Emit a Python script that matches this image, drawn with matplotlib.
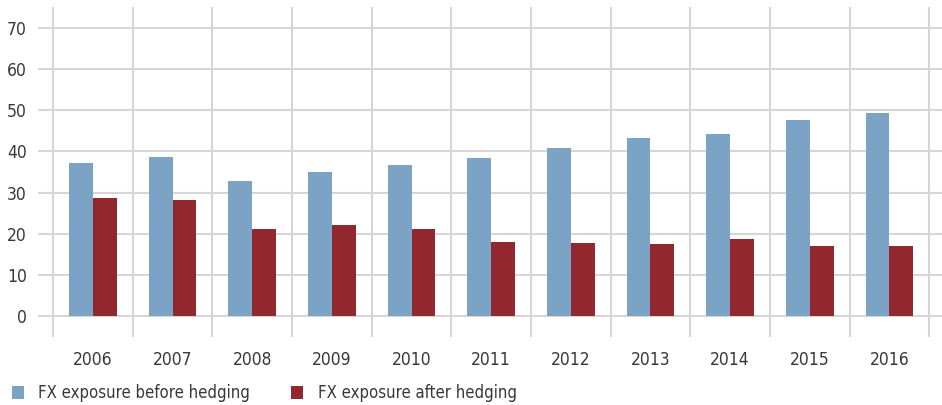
import matplotlib.pyplot as plt
import numpy as np

plt.rcParams['font.family'] = ['DejaVu Sans']
plt.rcParams['font.stretch'] = 'condensed'

# FX exposure, before and after hedging
years = ['2006', '2007', '2008', '2009', '2010', '2011',
         '2012', '2013', '2014', '2015', '2016']
before_hedging = [37.3, 38.7, 32.7, 35.1, 36.6, 38.3, 40.8, 43.3, 44.2, 47.5, 49.2]
after_hedging = [28.6, 28.3, 21.1, 22.1, 21.1, 18.1, 17.8, 17.6, 18.7, 17.0, 17.0]
y_ticks = [0, 10, 20, 30, 40, 50, 60, 70]

blue = '#7ba3c6'
red = '#93272e'
grid_col = '#d6d6d6'
text_col = '#383838'

fig = plt.figure(figsize=(9.42, 4.05), dpi=100)
ax = fig.add_axes([38 / 942, 1 - 337 / 405, 1 - 38 / 942, 330 / 405])

x = np.arange(len(years))
w = 0.30
ax.bar(x - w / 2, before_hedging, w, color=blue, label='FX exposure before hedging', zorder=3)
ax.bar(x + w / 2, after_hedging, w, color=red, label='FX exposure after hedging', zorder=3)

ax.set_xlim(-0.69, 10.66)
ax.set_ylim(-5, 75)

ax.set_yticks(y_ticks)
ax.set_xticks(x)
ax.set_xticklabels(years)
ax.set_xticks(np.arange(-0.5, len(years)), minor=True)

ax.grid(axis='y', which='major', color=grid_col, linewidth=1.5, zorder=0)
ax.grid(axis='x', which='minor', color=grid_col, linewidth=1.5, zorder=0)
ax.grid(axis='x', which='major', visible=False)

for s in ax.spines.values():
    s.set_visible(False)
ax.tick_params(which='both', length=0)
ax.tick_params(axis='y', pad=8, labelsize=12.5, labelcolor=text_col)
ax.tick_params(axis='x', pad=10, labelsize=12.5, labelcolor=text_col)

leg = fig.legend(loc='center left', bbox_to_anchor=(0.0, 1 - 393 / 405), ncol=2,
                 frameon=False, fontsize=12, handlelength=0.72, handleheight=0.85,
                 handletextpad=0.85, columnspacing=2.5, borderaxespad=0.3)
for t in leg.get_texts():
    t.set_color(text_col)

fig.savefig('out.png', dpi=100)
